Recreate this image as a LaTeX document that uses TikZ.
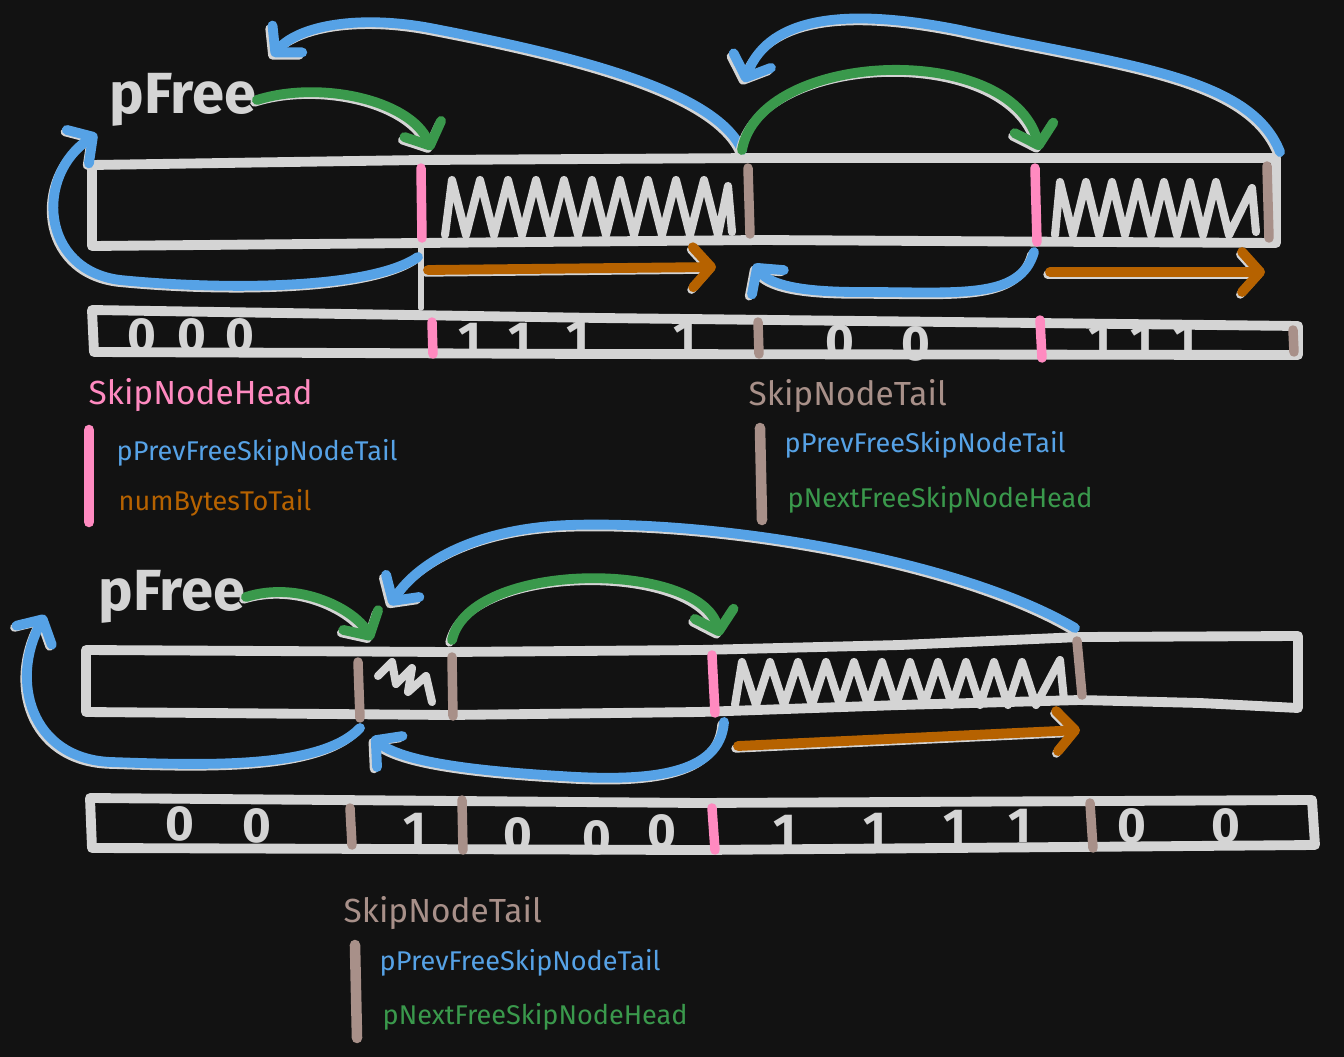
\documentclass[tikz,border=0pt]{standalone}
\usepackage{fontspec}
\setmainfont{Fira Sans}
\usetikzlibrary{arrows.meta}
\definecolor{boardbg}{RGB}{18,18,18}
\definecolor{chalk}{RGB}{212,212,212}
\definecolor{ptrblue}{RGB}{86,162,230}
\definecolor{nextgreen}{RGB}{58,153,76}
\definecolor{sizeorange}{RGB}{182,98,0}
\definecolor{headpink}{RGB}{255,138,192}
\definecolor{tailbrown}{RGB}{168,144,137}

\begin{document}
\begin{tikzpicture}[x=0.01cm, y=-0.01cm, line cap=round, line join=round,
    >={Straight Barb[round, length=1.8mm, width=4mm]},
    chalkline/.style={draw=chalk, line width=2.8pt},
    chalkthin/.style={draw=chalk, line width=1.6pt},
    hatch/.style={draw=chalk, line width=2.3pt},
    headbar/.style={draw=headpink, line width=2.7pt},
    tailbar/.style={draw=tailbrown, line width=2.7pt},
    smudge/.style={preaction={draw=chalk, line width=2.4pt, transform canvas={shift={(-0.7pt,-0.7pt)}}}},
    ptr/.style={smudge, draw=ptrblue, line width=2.8pt},
    nxt/.style={smudge, draw=nextgreen, line width=2.8pt},
    len/.style={smudge, draw=sizeorange, line width=2.8pt},
    bit/.style={text=chalk, inner sep=0pt, font=\fontsize{14}{14}\selectfont\bfseries},
    legendtitle/.style={anchor=west, inner sep=0pt, font=\fontsize{9.5}{11}\selectfont},
    legendfield/.style={anchor=west, inner sep=0pt, font=\fontsize{7.7}{9}\selectfont},
    pfree/.style={text=chalk, inner sep=0pt, font=\fontsize{16.5}{18}\selectfont\bfseries}]
  \fill[boardbg] (0,0) rectangle (1344,1057);
  \useasboundingbox (0,0) rectangle (1344,1057);

  % ---- before: two free blocks ----
  \node[pfree] (pfreeA) at (183,100) {pFree};
  \draw[chalkline] (92,165) -- (420,160) -- (760,158) -- (1276,158) -- (1276,243)
    -- (760,240) -- (420,243) -- (92,246) -- cycle;
  \draw[hatch] (445,235) foreach \x in {452,480,...,704} { -- (\x,180) -- ({\x+14},235) } -- (728,186) -- (732,232);
  \draw[hatch] (1055,235) foreach \x in {1060,1086,...,1230} { -- (\x,182) -- ({\x+13},235) } -- (1252,188) -- (1256,232);
  \draw[headbar] (421,168) -- (422,238);
  \draw[tailbar] (748,168) -- (750,234);
  \draw[headbar] (1035,168) -- (1037,242);
  \draw[tailbar] (1267,166) -- (1269,238);
  \draw[chalkthin] (421,246) -- (421,308);

  \coordinate (hAtop) at (432,150);
  \coordinate (hAbot) at (418,257);
  \coordinate (tAtop) at (742,150);
  \coordinate (tAup)  at (744,82);
  \coordinate (tAbot) at (754,264);
  \coordinate (hBtop) at (1040,150);
  \coordinate (hBbot) at (1034,252);
  \coordinate (tBtop) at (1280,152);
  \coordinate (prevA) at (272,56);
  \coordinate (pAin)  at (97,134);

  \draw[ptr,->] (tAtop) .. controls (715,90) and (570,55) .. (430,28)
    .. controls (360,15) and (300,25) .. (prevA);
  \draw[ptr,->] (tBtop) .. controls (1250,75) and (1120,65) .. (960,30)
    .. controls (850,8) and (770,15) .. (tAup);
  \draw[nxt,->] (pfreeA.east) .. controls (320,80) and (410,100) .. (hAtop);
  \draw[nxt,->] (tAtop) .. controls (760,50) and (1010,40) .. (hBtop);
  \draw[ptr,->] (hAbot) .. controls (370,290) and (220,290) .. (120,280)
    .. controls (40,270) and (35,175) .. (pAin);
  \draw[ptr,->] (hBbot) .. controls (1020,300) and (960,292) .. (860,292)
    .. controls (800,292) and (770,285) .. (tAbot);
  \coordinate (lenA0) at (428,270);
  \coordinate (lenA1) at (716,267);
  \coordinate (lenB0) at (1050,272);
  \coordinate (lenB1) at (1265,272);
  \draw[len,->] (lenA0) -- (lenA1);
  \draw[len,->] (lenB0) -- (lenB1);

  \draw[chalkline] (92,310) -- (600,318) -- (1298,326) -- (1298,355) -- (600,354)
    -- (94,352) -- cycle;
  \draw[headbar] (432,322) -- (433,354);
  \draw[tailbar] (758,322) -- (759,354);
  \draw[headbar] (1040,320) -- (1042,358);
  \draw[tailbar] (1293,330) -- (1294,352);
  \foreach \x/\y [count=\i] in {142/336,192/336,240/336,840/342,916/344}
    \node[bit] (zA\i) at (\x,\y) {0};
  \foreach \x/\y [count=\i] in {470/340,520/340,578/338,685/338,1100/340,1142/341,1185/340}
    \node[bit] (oA\i) at (\x,\y) {1};

  % legend
  \node[legendtitle, text=headpink] (headkey) at (88,395) {SkipNodeHead};
  \draw[headbar, line width=3pt] (89,430) -- (89,522);
  \node[legendfield, text=ptrblue] (headprev) at (116,453) {pPrevFreeSkipNodeTail};
  \node[legendfield, text=sizeorange] (headlen) at (118,503) {numBytesToTail};
  \node[legendtitle, text=tailbrown] (tailkeyA) at (748,396) {SkipNodeTail};
  \draw[tailbar, line width=3pt] (760,428) -- (762,520);
  \node[legendfield, text=ptrblue] (tailprevA) at (784,445) {pPrevFreeSkipNodeTail};
  \node[legendfield, text=nextgreen] (tailnextA) at (787,500) {pNextFreeSkipNodeHead};

  % ---- after: blocks split ----
  \node[pfree] (pfreeB) at (172,597) {pFree};
  \draw[chalkline] (86,650) -- (450,652) -- (700,650) -- (900,645) -- (1080,637)
    -- (1298,636) -- (1298,708) -- (1200,703) -- (1080,700)
    -- (900,705) -- (700,712) -- (450,715) -- (86,712) -- cycle;
  \draw[hatch] (378,676) -- (392,662) -- (396,684) -- (412,668) -- (408,692)
    -- (426,676) -- (432,702);
  \draw[hatch] (735,705) foreach \x in {742,770,...,1040} { -- (\x,662) -- ({\x+14},705) } -- (1060,660) -- (1064,700);
  \draw[tailbar] (358,662) -- (360,718);
  \draw[tailbar] (452,657) -- (453,716);
  \draw[headbar] (712,655) -- (715,713);
  \draw[tailbar] (1077,641) -- (1082,695);

  \coordinate (tCtop) at (372,640);
  \coordinate (tCup)  at (390,605);
  \coordinate (tCbot) at (360,728);
  \coordinate (tCin)  at (372,737);
  \coordinate (tDtop) at (452,640);
  \coordinate (hCtop) at (720,636);
  \coordinate (hCbot) at (724,722);
  \coordinate (tEtop) at (1075,628);
  \coordinate (pBin)  at (45,615);

  \draw[nxt,->] (pfreeB.east) .. controls (300,580) and (355,610) .. (tCtop);
  \draw[ptr,->] (tEtop) .. controls (960,560) and (720,520) .. (570,525)
    .. controls (480,528) and (420,560) .. (tCup);
  \draw[nxt,->] (tDtop) .. controls (470,560) and (700,560) .. (hCtop);
  \draw[ptr,->] (tCbot) .. controls (320,770) and (200,765) .. (110,762)
    .. controls (30,758) and (10,680) .. (pBin);
  \draw[ptr,->] (hCbot) .. controls (720,775) and (650,782) .. (560,776)
    .. controls (460,770) and (400,760) .. (tCin);
  \coordinate (lenC0) at (738,746);
  \coordinate (lenC1) at (1080,730);
  \draw[len,->] (lenC0) -- (lenC1);

  \draw[chalkline] (90,798) -- (700,803) -- (1312,800) -- (1315,845) -- (700,850)
    -- (92,848) -- cycle;
  \draw[tailbar] (350,808) -- (352,845);
  \draw[tailbar] (462,800) -- (463,850);
  \draw[headbar] (712,808) -- (715,850);
  \draw[tailbar] (1090,803) -- (1093,848);
  \foreach \x/\y [count=\i] in {180/824,257/826,518/835,597/838,662/832,1132/826,1226/826}
    \node[bit] (zB\i) at (\x,\y) {0};
  \foreach \x/\y [count=\i] in {415/830,785/832,875/830,955/827,1020/826}
    \node[bit] (oB\i) at (\x,\y) {1};

  % legend
  \node[legendtitle, text=tailbrown] (tailkeyB) at (343,913) {SkipNodeTail};
  \draw[tailbar, line width=3pt] (355,945) -- (357,1038);
  \node[legendfield, text=ptrblue] (tailprevB) at (379,963) {pPrevFreeSkipNodeTail};
  \node[legendfield, text=nextgreen] (tailnextB) at (382,1017) {pNextFreeSkipNodeHead};
\end{tikzpicture}
\end{document}
